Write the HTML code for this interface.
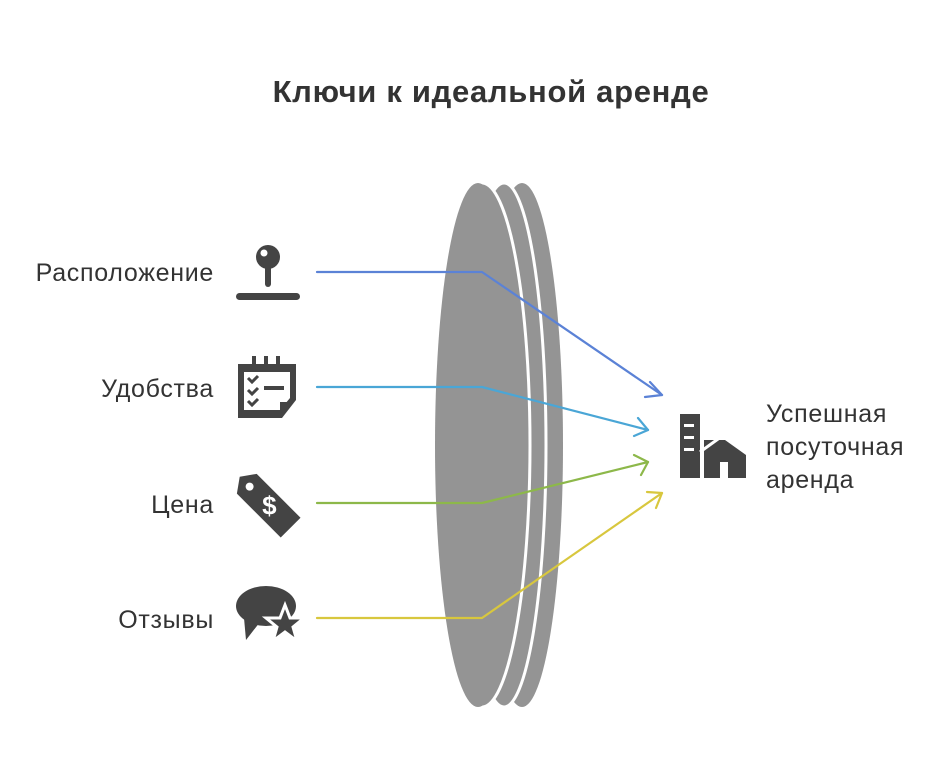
<!DOCTYPE html>
<html><head><meta charset="utf-8"><style>
body{margin:0;background:#fff;width:944px;height:768px;overflow:hidden;font-family:"Liberation Sans",sans-serif}
</style></head><body>
<svg width="944" height="768" viewBox="0 0 944 768" xmlns="http://www.w3.org/2000/svg">
<text x="491" y="102" text-anchor="middle" font-size="31" font-weight="bold" fill="#333" letter-spacing="0.7" font-family="Liberation Sans, sans-serif">Ключи к идеальной аренде</text>
<!-- lens -->
<ellipse cx="522" cy="445" rx="41" ry="262" fill="#949494"/>
<ellipse cx="504" cy="445" rx="42" ry="262" fill="#949494" stroke="#fff" stroke-width="3"/>
<ellipse cx="482" cy="445" rx="48" ry="262" fill="#949494" stroke="#fff" stroke-width="3"/>
<ellipse cx="478" cy="445" rx="43" ry="262" fill="#949494"/>
<!-- connectors -->
<g fill="none" stroke-width="2.2" stroke-linecap="round" stroke-linejoin="round">
<path d="M317 272 H482 L662 395" stroke="#5b82d6"/>
<path d="M650 382 L662 395 L645 397" stroke="#5b82d6"/>
<path d="M317 387 H482 L648 430" stroke="#4aa6d6"/>
<path d="M638 418 L648 430 L634 436" stroke="#4aa6d6"/>
<path d="M317 503 H482 L648 462" stroke="#8db84a"/>
<path d="M634 455 L648 462 L641 475" stroke="#8db84a"/>
<path d="M317 618 H482 L662 493" stroke="#d8c73e"/>
<path d="M647 492 L662 493 L656 508" stroke="#d8c73e"/>
</g>
<!-- labels -->
<g font-size="25" fill="#333" text-anchor="end" letter-spacing="0.7">
<text x="214" y="281">Расположение</text>
<text x="214" y="397">Удобства</text>
<text x="214" y="513">Цена</text>
<text x="214" y="628">Отзывы</text>
</g>
<g font-size="25" fill="#333" letter-spacing="0.7">
<text x="766" y="422">Успешная</text>
<text x="766" y="455">посуточная</text>
<text x="766" y="488">аренда</text>
</g>
<!-- icons -->
<g fill="#444">
<circle cx="268" cy="257" r="12"/>
<circle cx="264" cy="253" r="3.5" fill="#fff"/>
<rect x="265" y="265" width="6" height="22" rx="3"/>
<rect x="236" y="293" width="64" height="7" rx="3.5"/>
</g>
<g>
<path d="M238 364 H296 V400 L282 418 H238 Z" fill="#444"/>
<path d="M244 372 H290 V398 L280 410 H244 Z" fill="#fff"/>
<path d="M248 378 L252 382 L258 376 M248 390 L252 394 L258 388 M248 401 L252 405 L258 399" stroke="#444" stroke-width="3" fill="none"/>
<rect x="264" y="386" width="20" height="4" fill="#444"/>
<rect x="252" y="356" width="4" height="12" fill="#444"/><rect x="264" y="356" width="4" height="12" fill="#444"/><rect x="276" y="356" width="4" height="12" fill="#444"/>
<path d="M280 402 H294 L280 414 Z" fill="#444"/>
</g>
<g transform="translate(268 505) rotate(-45)">
<path d="M-14 -30 L0 -40 L14 -30 V32 H-14 Z" fill="#444"/>
<circle cx="0" cy="-26" r="4" fill="#fff"/>
<text x="0" y="10" text-anchor="middle" font-size="26" font-weight="bold" fill="#fff" transform="rotate(45 0 2)">$</text>
</g>
<g fill="#444">
<ellipse cx="266" cy="606" rx="30" ry="20"/>
<path d="M244 618 L246 640 L260 622 Z"/>
<polygon points="285,605 290,618 304,618 293,627 297,641 285,632 273,641 277,627 266,618 280,618" stroke="#fff" stroke-width="3"/>
</g>
<g fill="#444">
<path d="M680 414 L700 414 L700 478 L680 478 Z"/>
<path d="M704 440 L704 478 L746 478 L746 455 L725 440 Z"/>
<path d="M700 452 L725 434 L750 452" stroke="#fff" stroke-width="3" fill="none"/>
<rect x="720" y="462" width="8" height="16" fill="#fff"/>
<rect x="684" y="424" width="10" height="3" fill="#fff"/>
<rect x="684" y="436" width="10" height="3" fill="#fff"/>
<rect x="684" y="448" width="10" height="3" fill="#fff"/>
</g>
</svg>
</body></html>
